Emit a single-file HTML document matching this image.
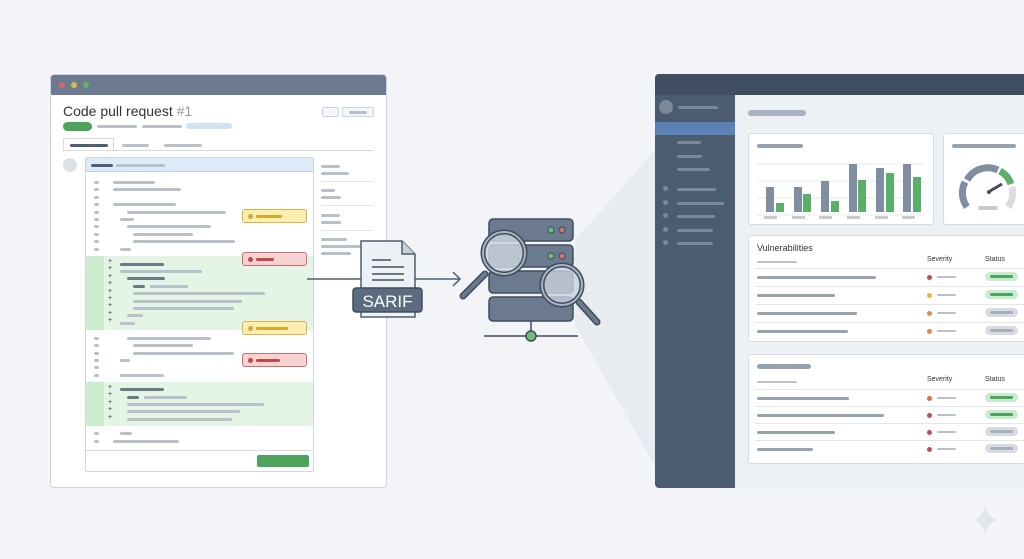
<!DOCTYPE html><html><head><style>
*{margin:0;padding:0;box-sizing:border-box}
body{width:1024px;height:559px;background:#f2f4f7;position:relative;overflow:hidden;font-family:"Liberation Sans",sans-serif}
.a{position:absolute}
.l{position:absolute;height:3px;border-radius:2px;background:#b8c0ca}
.d{background:#6b7888}
</style></head><body>
<svg class="a" style="left:0;top:0" width="1024" height="559">
<polygon points="575,240 660,145 660,475 575,325" fill="#e8ebef"/>
</svg>
<!-- left window -->
<div class="a" style="left:50px;top:74px;width:337px;height:414px;background:#fff;border:1px solid #cfd5dc;border-radius:4px;overflow:hidden">
<div class="a" style="left:0;top:0;width:337px;height:20px;background:#6b7a8f"></div>
<div class="a" style="left:8px;top:7px;width:6px;height:6px;border-radius:3px;background:#d06a6a"></div>
<div class="a" style="left:20px;top:7px;width:6px;height:6px;border-radius:3px;background:#d9b94f"></div>
<div class="a" style="left:32px;top:7px;width:6px;height:6px;border-radius:3px;background:#5fb36a"></div>
</div>
<div class="a" style="left:63px;top:103px;font-size:14px;color:#333">Code pull request <span style="color:#999">#1</span></div>
<div class="a" style="left:322px;top:107px;width:17px;height:10px;border:1px solid #cfd5dc;border-radius:2px;background:#f4f6f8"></div>
<div class="a" style="left:342px;top:107px;width:32px;height:10px;border:1px solid #cfd5dc;border-radius:2px;background:#f4f6f8"></div>
<div class="l" style="left:349px;top:111px;width:18px"></div>
<div class="a" style="left:63px;top:122px;width:29px;height:9px;border-radius:5px;background:#4ea35d"></div>
<div class="l" style="left:97px;top:125px;width:40px"></div>
<div class="l" style="left:142px;top:125px;width:40px"></div>
<div class="a" style="left:186px;top:123px;width:46px;height:6px;border-radius:3px;background:#cfe3f3"></div>
<div class="a" style="left:63px;top:138px;width:51px;height:13px;border:1px solid #d5dbe2;border-bottom:none;background:#fff"></div>
<div class="a" style="left:63px;top:150px;width:311px;height:1px;background:#d5dbe2"></div>
<div class="l d" style="left:70px;top:144px;width:38px;background:#4f5e70"></div>
<div class="l" style="left:122px;top:144px;width:27px"></div>
<div class="l" style="left:164px;top:144px;width:38px"></div>
<div class="a" style="left:63px;top:158px;width:14px;height:14px;border-radius:7px;background:#dde1e6"></div>
<!-- code box -->
<div class="a" style="left:85px;top:157px;width:229px;height:315px;border:1px solid #cfd5dc;background:#fff;border-radius:2px"></div>
<div class="a" style="left:86px;top:158px;width:227px;height:14px;background:#dcebf7;border-bottom:1px solid #bcd3e6"></div>
<div class="l" style="left:91px;top:164px;width:22px;background:#4f5e70"></div>
<div class="l" style="left:116px;top:164px;width:49px"></div>
<div class="a" style="left:86px;top:256px;width:227px;height:74px;background:#e4f5e6"></div>
<div class="a" style="left:86px;top:256px;width:18px;height:74px;background:#cdeccf"></div>
<div class="a" style="left:86px;top:382px;width:227px;height:44px;background:#e4f5e6"></div>
<div class="a" style="left:86px;top:382px;width:18px;height:44px;background:#cdeccf"></div>
<div class="a" style="left:86px;top:450px;width:227px;height:1px;background:#d5dbe2"></div>
<div class="a" style="left:257px;top:455px;width:52px;height:12px;background:#4ea35d;border-radius:2px"></div>
<!-- code lines -->
<div class="l" style="left:94px;top:181px;width:5px"></div><div class="l" style="left:113px;top:181px;width:42px"></div>
<div class="l" style="left:94px;top:188px;width:5px"></div><div class="l" style="left:113px;top:188px;width:68px"></div>
<div class="l" style="left:94px;top:196px;width:5px"></div>
<div class="l" style="left:94px;top:203px;width:5px"></div><div class="l" style="left:113px;top:203px;width:63px"></div>
<div class="l" style="left:94px;top:211px;width:5px"></div><div class="l" style="left:127px;top:211px;width:99px"></div>
<div class="l" style="left:94px;top:218px;width:5px"></div><div class="l" style="left:120px;top:218px;width:14px"></div>
<div class="l" style="left:94px;top:225px;width:5px"></div><div class="l" style="left:127px;top:225px;width:84px"></div>
<div class="l" style="left:94px;top:233px;width:5px"></div><div class="l" style="left:133px;top:233px;width:60px"></div>
<div class="l" style="left:94px;top:240px;width:5px"></div><div class="l" style="left:133px;top:240px;width:102px"></div>
<div class="l" style="left:94px;top:248px;width:5px"></div><div class="l" style="left:120px;top:248px;width:11px"></div>
<div class="l d" style="left:120px;top:263px;width:44px"></div>
<div class="l" style="left:120px;top:270px;width:82px"></div>
<div class="l d" style="left:127px;top:277px;width:38px"></div>
<div class="l d" style="left:133px;top:285px;width:12px"></div><div class="l" style="left:150px;top:285px;width:38px"></div>
<div class="l" style="left:133px;top:292px;width:132px"></div>
<div class="l" style="left:133px;top:300px;width:109px"></div>
<div class="l" style="left:133px;top:307px;width:101px"></div>
<div class="l" style="left:127px;top:314px;width:16px"></div>
<div class="l" style="left:120px;top:322px;width:15px"></div>
<div class="l" style="left:94px;top:337px;width:5px"></div><div class="l" style="left:127px;top:337px;width:84px"></div>
<div class="l" style="left:94px;top:344px;width:5px"></div><div class="l" style="left:133px;top:344px;width:60px"></div>
<div class="l" style="left:94px;top:352px;width:5px"></div><div class="l" style="left:133px;top:352px;width:101px"></div>
<div class="l" style="left:94px;top:359px;width:5px"></div><div class="l" style="left:120px;top:359px;width:10px"></div>
<div class="l" style="left:94px;top:366px;width:5px"></div>
<div class="l" style="left:94px;top:374px;width:5px"></div><div class="l" style="left:120px;top:374px;width:44px"></div>
<div class="l d" style="left:120px;top:388px;width:44px"></div>
<div class="l d" style="left:127px;top:396px;width:12px"></div><div class="l" style="left:144px;top:396px;width:43px"></div>
<div class="l" style="left:127px;top:403px;width:137px"></div>
<div class="l" style="left:127px;top:410px;width:113px"></div>
<div class="l" style="left:127px;top:418px;width:105px"></div>
<div class="l" style="left:94px;top:432px;width:5px"></div><div class="l" style="left:120px;top:432px;width:12px"></div>
<div class="l" style="left:94px;top:440px;width:5px"></div><div class="l" style="left:113px;top:440px;width:66px"></div>
<!-- plus markers -->
<div class="a" style="left:108px;top:258px;font-size:7px;line-height:7.4px;color:#333;width:6px">+<br>+<br>+<br>+<br>+<br>+<br>+<br>+<br>+</div>
<div class="a" style="left:108px;top:384px;font-size:7px;line-height:7.4px;color:#333;width:6px">+<br>+<br>+<br>+<br>+</div>
<!-- comments -->
<div class="a" style="left:242px;top:209px;width:65px;height:14px;background:#fbeeb0;border:1px solid #d8b54a;border-radius:3px"></div>
<div class="a" style="left:248px;top:214px;width:5px;height:5px;border-radius:3px;background:#d4a82c"></div><div class="l" style="left:256px;top:215px;width:26px;background:#d4a82c"></div>
<div class="a" style="left:242px;top:252px;width:65px;height:14px;background:#f7d2d2;border:1px solid #c77070;border-radius:3px"></div>
<div class="a" style="left:248px;top:257px;width:5px;height:5px;border-radius:3px;background:#c04848"></div><div class="l" style="left:256px;top:258px;width:18px;background:#c04848"></div>
<div class="a" style="left:242px;top:321px;width:65px;height:14px;background:#fbeeb0;border:1px solid #d8b54a;border-radius:3px"></div>
<div class="a" style="left:248px;top:326px;width:5px;height:5px;border-radius:3px;background:#d4a82c"></div><div class="l" style="left:256px;top:327px;width:32px;background:#d4a82c"></div>
<div class="a" style="left:242px;top:353px;width:65px;height:14px;background:#f7d2d2;border:1px solid #c77070;border-radius:3px"></div>
<div class="a" style="left:248px;top:358px;width:5px;height:5px;border-radius:3px;background:#c04848"></div><div class="l" style="left:256px;top:359px;width:24px;background:#c04848"></div>
<!-- right meta -->
<div class="l" style="left:321px;top:165px;width:19px"></div><div class="l" style="left:321px;top:172px;width:28px"></div>
<div class="a" style="left:321px;top:181px;width:52px;height:1px;background:#e0e4e8"></div>
<div class="l" style="left:321px;top:189px;width:14px"></div><div class="l" style="left:321px;top:196px;width:20px"></div>
<div class="a" style="left:321px;top:205px;width:52px;height:1px;background:#e0e4e8"></div>
<div class="l" style="left:321px;top:214px;width:19px"></div><div class="l" style="left:321px;top:221px;width:20px"></div>
<div class="a" style="left:321px;top:230px;width:52px;height:1px;background:#e0e4e8"></div>
<div class="l" style="left:321px;top:238px;width:26px"></div><div class="l" style="left:321px;top:245px;width:40px"></div><div class="l" style="left:321px;top:252px;width:30px"></div>
<!-- middle svg -->
<svg class="a" style="left:300px;top:200px" width="320" height="150">
<line x1="7" y1="79" x2="62" y2="79" stroke="#4f5e70" stroke-width="1.5"/>
<line x1="115" y1="79" x2="160" y2="79" stroke="#4f5e70" stroke-width="1.5"/>
<polyline points="153,72 160,79 153,86" fill="none" stroke="#4f5e70" stroke-width="1.5"/>
<path d="M61,41 h41 l13,13 v63 h-54z" fill="#eef1f4" stroke="#4f5e70" stroke-width="1.5"/>
<path d="M102,41 v13 h13" fill="#c9d0d8" stroke="#4f5e70" stroke-width="1.5"/>
<line x1="72" y1="60" x2="91" y2="60" stroke="#6b7888" stroke-width="2"/>
<line x1="72" y1="67" x2="104" y2="67" stroke="#6b7888" stroke-width="2"/>
<line x1="72" y1="74" x2="104" y2="74" stroke="#6b7888" stroke-width="2"/>
<line x1="72" y1="80" x2="104" y2="80" stroke="#6b7888" stroke-width="2"/>
<rect x="53" y="88" width="69" height="24" rx="3" fill="#5b6b80" stroke="#3f4d5e" stroke-width="1.5"/>
<text x="87.5" y="107" text-anchor="middle" font-family="Liberation Sans" font-size="17" fill="#fff">SARIF</text>
<g fill="#6b7a8f" stroke="#3f4d5e" stroke-width="1.5">
<rect x="189" y="19" width="84" height="22" rx="4"/>
<rect x="189" y="45" width="84" height="22" rx="4"/>
<rect x="189" y="71" width="84" height="22" rx="4"/>
<rect x="189" y="97" width="84" height="24" rx="4"/>
</g>
<g stroke="#3f4d5e" stroke-width="1"><circle cx="251" cy="30" r="3" fill="#6fbf7a"/><circle cx="262" cy="30" r="3" fill="#d07070"/>
<circle cx="251" cy="56" r="3" fill="#6fbf7a"/><circle cx="262" cy="56" r="3" fill="#d07070"/></g>
<line x1="231" y1="121" x2="231" y2="136" stroke="#3f4d5e" stroke-width="1.5"/>
<line x1="184" y1="136" x2="278" y2="136" stroke="#3f4d5e" stroke-width="1.5"/>
<circle cx="231" cy="136" r="5" fill="#6fbf7a" stroke="#3f4d5e" stroke-width="1.5"/>
<line x1="185" y1="74" x2="163" y2="96" stroke="#3f4d5e" stroke-width="7" stroke-linecap="round"/>
<line x1="185" y1="74" x2="163" y2="96" stroke="#6b7a8f" stroke-width="4" stroke-linecap="round"/>
<circle cx="204" cy="53" r="21" fill="#c9d2dc" fill-opacity=".85" stroke="#3f4d5e" stroke-width="5"/>
<circle cx="204" cy="53" r="21" fill="none" stroke="#aab4c0" stroke-width="2"/>
<line x1="279" y1="102" x2="297" y2="122" stroke="#3f4d5e" stroke-width="7" stroke-linecap="round"/>
<line x1="279" y1="102" x2="297" y2="122" stroke="#6b7a8f" stroke-width="4" stroke-linecap="round"/>
<circle cx="262" cy="85" r="20" fill="#c9d2dc" fill-opacity=".8" stroke="#3f4d5e" stroke-width="5"/>
<circle cx="262" cy="85" r="20" fill="none" stroke="#aab4c0" stroke-width="2"/>
</svg>
<!-- dashboard -->
<div class="a" style="left:655px;top:74px;width:369px;height:414px;background:#eef1f4;border-radius:4px 0 0 4px;overflow:hidden">
<div class="a" style="left:0;top:0;width:369px;height:21px;background:#3f4e60"></div>
<div class="a" style="left:0;top:21px;width:80px;height:393px;background:#4b5c70"></div>
<div class="a" style="left:0;top:48px;width:80px;height:13px;background:#5b82b5"></div>
</div>
<div class="a" style="left:659px;top:100px;width:14px;height:14px;border-radius:7px;background:#7a889a"></div>
<div class="l" style="left:678px;top:106px;width:40px;background:#7a889a"></div>
<div class="l" style="left:677px;top:141px;width:24px;background:#7a889a"></div>
<div class="l" style="left:677px;top:155px;width:25px;background:#7a889a"></div>
<div class="l" style="left:677px;top:168px;width:33px;background:#7a889a"></div>
<div class="a" style="left:663px;top:186px;width:5px;height:5px;border-radius:3px;background:#7a889a"></div><div class="l" style="left:677px;top:188px;width:39px;background:#7a889a"></div>
<div class="a" style="left:663px;top:200px;width:5px;height:5px;border-radius:3px;background:#7a889a"></div><div class="l" style="left:677px;top:202px;width:47px;background:#7a889a"></div>
<div class="a" style="left:663px;top:213px;width:5px;height:5px;border-radius:3px;background:#7a889a"></div><div class="l" style="left:677px;top:215px;width:38px;background:#7a889a"></div>
<div class="a" style="left:663px;top:227px;width:5px;height:5px;border-radius:3px;background:#7a889a"></div><div class="l" style="left:677px;top:229px;width:36px;background:#7a889a"></div>
<div class="a" style="left:663px;top:240px;width:5px;height:5px;border-radius:3px;background:#7a889a"></div><div class="l" style="left:677px;top:242px;width:36px;background:#7a889a"></div>
<div class="a" style="left:748px;top:110px;width:58px;height:6px;border-radius:3px;background:#a9b3bf"></div>
<!-- chart card -->
<div class="a" style="left:748px;top:133px;width:186px;height:92px;background:#fff;border:1px solid #d5dbe2;border-radius:3px"></div>
<div class="l" style="left:757px;top:144px;width:46px;background:#98a3b0;height:4px"></div>
<svg class="a" style="left:748px;top:133px" width="186" height="92">
<g stroke="#e5e8ec"><line x1="9" y1="48" x2="176" y2="48"/><line x1="9" y1="65" x2="176" y2="65"/><line x1="9" y1="82" x2="176" y2="82"/><line x1="9" y1="31" x2="176" y2="31"/></g>
<g fill="#7f8ea0"><rect x="18" y="54" width="8" height="25"/><rect x="46" y="54" width="8" height="25"/><rect x="73" y="48" width="8" height="31"/><rect x="101" y="31" width="8" height="48"/><rect x="128" y="35" width="8" height="44"/><rect x="155" y="31" width="8" height="48"/></g>
<g fill="#5ab069"><rect x="28" y="70" width="8" height="9"/><rect x="55" y="61" width="8" height="18"/><rect x="83" y="68" width="8" height="11"/><rect x="110" y="47" width="8" height="32"/><rect x="138" y="40" width="8" height="39"/><rect x="165" y="44" width="8" height="35"/></g>
<g fill="#c4cbd3"><rect x="16" y="83" width="13" height="3"/><rect x="44" y="83" width="13" height="3"/><rect x="71" y="83" width="13" height="3"/><rect x="99" y="83" width="13" height="3"/><rect x="127" y="83" width="13" height="3"/><rect x="154" y="83" width="13" height="3"/></g>
</svg>
<!-- gauge card -->
<div class="a" style="left:943px;top:133px;width:90px;height:92px;background:#fff;border:1px solid #d5dbe2;border-radius:3px"></div>
<div class="l" style="left:952px;top:144px;width:64px;background:#98a3b0;height:4px"></div>
<svg class="a" style="left:955px;top:160px" width="69" height="60">
<path d="M12,47 A24,24 0 0 1 10,22" fill="none" stroke="#7f8ea0" stroke-width="7"/>
<path d="M12,20 A24,24 0 0 1 43,10" fill="none" stroke="#7f8ea0" stroke-width="7"/>
<path d="M45,11 A24,24 0 0 1 56,24" fill="none" stroke="#5ab069" stroke-width="7"/>
<path d="M57,27 A24,24 0 0 1 53,47" fill="none" stroke="#d8dde2" stroke-width="7"/>
<line x1="35" y1="31" x2="47" y2="24" stroke="#3f4d5e" stroke-width="3"/>
<circle cx="34" cy="32" r="2" fill="#3f4d5e"/>
<rect x="23" y="46" width="20" height="4" rx="2" fill="#c4cbd3"/>
</svg>
<!-- vuln card -->
<div class="a" style="left:748px;top:235px;width:290px;height:107px;background:#fff;border:1px solid #d5dbe2;border-radius:3px"></div>
<div class="a" style="left:757px;top:243px;font-size:9px;color:#333">Vulnerabilities</div>
<div class="l" style="left:757px;top:261px;width:40px;height:2px"></div>
<div class="a" style="left:927px;top:256px;font-size:7px;color:#333">Severity</div>
<div class="a" style="left:985px;top:256px;font-size:7px;color:#333">Status</div>
<div class="a" style="left:748px;top:354px;width:290px;height:110px;background:#fff;border:1px solid #d5dbe2;border-radius:3px"></div>
<div class="a" style="left:757px;top:364px;width:54px;height:5px;border-radius:3px;background:#98a3b0"></div>
<div class="l" style="left:757px;top:381px;width:40px;height:2px"></div>
<div class="a" style="left:927px;top:376px;font-size:7px;color:#333">Severity</div>
<div class="a" style="left:985px;top:376px;font-size:7px;color:#333">Status</div>
<!-- rows -->
<div class="a" style="left:755px;top:268px;width:270px;height:1px;background:#e3e6ea"></div>
<div class="a" style="left:755px;top:286px;width:270px;height:1px;background:#e3e6ea"></div>
<div class="a" style="left:755px;top:304px;width:270px;height:1px;background:#e3e6ea"></div>
<div class="a" style="left:755px;top:322px;width:270px;height:1px;background:#e3e6ea"></div>
<div class="a" style="left:755px;top:389px;width:270px;height:1px;background:#e3e6ea"></div>
<div class="a" style="left:755px;top:406px;width:270px;height:1px;background:#e3e6ea"></div>
<div class="a" style="left:755px;top:423px;width:270px;height:1px;background:#e3e6ea"></div>
<div class="a" style="left:755px;top:440px;width:270px;height:1px;background:#e3e6ea"></div>
<div class="l" style="left:757px;top:276px;width:119px;background:#98a3b0"></div>
<div class="l" style="left:757px;top:294px;width:78px;background:#98a3b0"></div>
<div class="l" style="left:757px;top:312px;width:100px;background:#98a3b0"></div>
<div class="l" style="left:757px;top:330px;width:91px;background:#98a3b0"></div>
<div class="l" style="left:757px;top:397px;width:92px;background:#98a3b0"></div>
<div class="l" style="left:757px;top:414px;width:127px;background:#98a3b0"></div>
<div class="l" style="left:757px;top:431px;width:78px;background:#98a3b0"></div>
<div class="l" style="left:757px;top:448px;width:56px;background:#98a3b0"></div>
<div class="a" style="left:927px;top:275px;width:5px;height:5px;border-radius:3px;background:#c0504d"></div>
<div class="a" style="left:927px;top:293px;width:5px;height:5px;border-radius:3px;background:#e0b840"></div>
<div class="a" style="left:927px;top:311px;width:5px;height:5px;border-radius:3px;background:#e08a40"></div>
<div class="a" style="left:927px;top:329px;width:5px;height:5px;border-radius:3px;background:#e08a40"></div>
<div class="a" style="left:927px;top:396px;width:5px;height:5px;border-radius:3px;background:#d9704d"></div>
<div class="a" style="left:927px;top:413px;width:5px;height:5px;border-radius:3px;background:#c0504d"></div>
<div class="a" style="left:927px;top:430px;width:5px;height:5px;border-radius:3px;background:#c0504d"></div>
<div class="a" style="left:927px;top:447px;width:5px;height:5px;border-radius:3px;background:#c0504d"></div>
<div class="l" style="left:937px;top:276px;width:19px;height:2px"></div><div class="l" style="left:937px;top:294px;width:19px;height:2px"></div>
<div class="l" style="left:937px;top:312px;width:19px;height:2px"></div><div class="l" style="left:937px;top:330px;width:19px;height:2px"></div>
<div class="l" style="left:937px;top:397px;width:19px;height:2px"></div><div class="l" style="left:937px;top:414px;width:19px;height:2px"></div>
<div class="l" style="left:937px;top:431px;width:19px;height:2px"></div><div class="l" style="left:937px;top:448px;width:19px;height:2px"></div>
<div class="a" style="left:985px;top:272px;width:33px;height:9px;border-radius:5px;background:#c9ecd0;border-top:3px solid #c9ecd0;border-bottom:3px solid #c9ecd0"><div style="margin:0 5px;height:3px;background:#4ea35d;border-radius:2px"></div></div>
<div class="a" style="left:985px;top:290px;width:33px;height:9px;border-radius:5px;background:#c9ecd0;border-top:3px solid #c9ecd0;border-bottom:3px solid #c9ecd0"><div style="margin:0 5px;height:3px;background:#4ea35d;border-radius:2px"></div></div>
<div class="a" style="left:985px;top:308px;width:33px;height:9px;border-radius:5px;background:#d7dce2;border-top:3px solid #d7dce2;border-bottom:3px solid #d7dce2"><div style="margin:0 5px;height:3px;background:#a6b0bc;border-radius:2px"></div></div>
<div class="a" style="left:985px;top:326px;width:33px;height:9px;border-radius:5px;background:#d7dce2;border-top:3px solid #d7dce2;border-bottom:3px solid #d7dce2"><div style="margin:0 5px;height:3px;background:#a6b0bc;border-radius:2px"></div></div>
<div class="a" style="left:985px;top:393px;width:33px;height:9px;border-radius:5px;background:#c9ecd0;border-top:3px solid #c9ecd0;border-bottom:3px solid #c9ecd0"><div style="margin:0 5px;height:3px;background:#4ea35d;border-radius:2px"></div></div>
<div class="a" style="left:985px;top:410px;width:33px;height:9px;border-radius:5px;background:#c9ecd0;border-top:3px solid #c9ecd0;border-bottom:3px solid #c9ecd0"><div style="margin:0 5px;height:3px;background:#4ea35d;border-radius:2px"></div></div>
<div class="a" style="left:985px;top:427px;width:33px;height:9px;border-radius:5px;background:#d7dce2;border-top:3px solid #d7dce2;border-bottom:3px solid #d7dce2"><div style="margin:0 5px;height:3px;background:#a6b0bc;border-radius:2px"></div></div>
<div class="a" style="left:985px;top:444px;width:33px;height:9px;border-radius:5px;background:#d7dce2;border-top:3px solid #d7dce2;border-bottom:3px solid #d7dce2"><div style="margin:0 5px;height:3px;background:#a6b0bc;border-radius:2px"></div></div>
<svg class="a" style="left:970px;top:500px" width="30" height="40"><path d="M15,5 Q17,18 28,20 Q17,22 15,35 Q13,22 2,20 Q13,18 15,5z" fill="#e2e6eb"/></svg>
</body></html>
